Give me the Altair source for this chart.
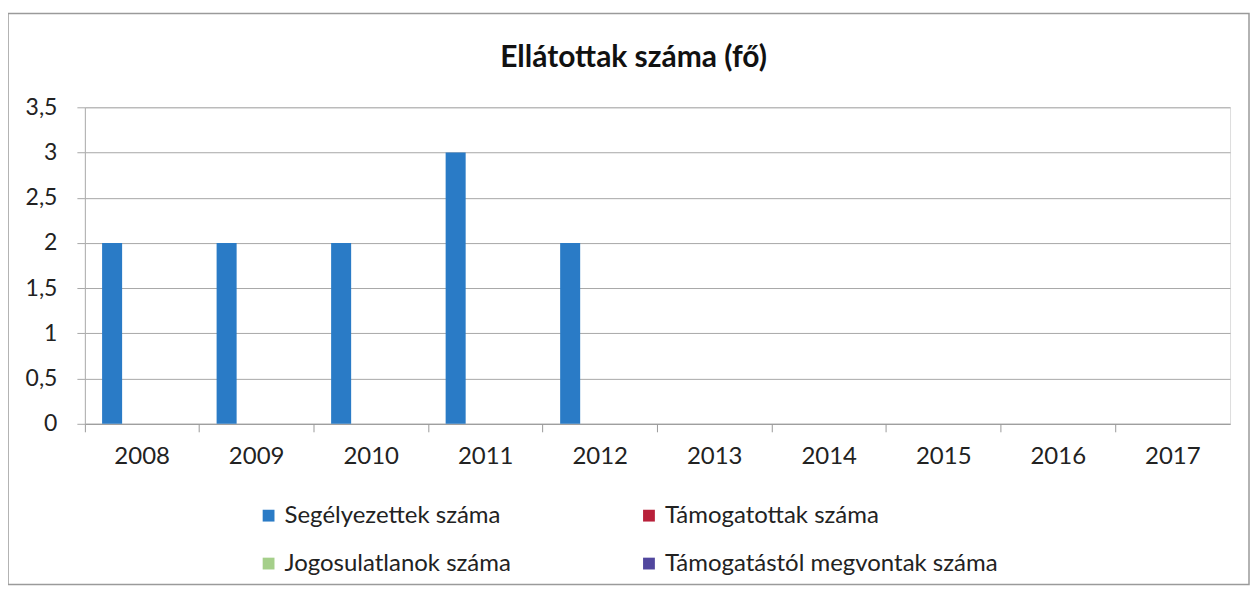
import altair as alt
import pandas as pd

years = ["2008", "2009", "2010", "2011", "2012", "2013", "2014", "2015", "2016", "2017"]
series = ["Segélyezettek száma", "Támogatottak száma", "Jogosulatlanok száma", "Támogatástól megvontak száma"]
segelyezettek = [2, 2, 2, 3, 2, 0, 0, 0, 0, 0]
tamogatottak = [0, 0, 0, 0, 0, 0, 0, 0, 0, 0]
jogosulatlanok = [0, 0, 0, 0, 0, 0, 0, 0, 0, 0]
megvontak = [0, 0, 0, 0, 0, 0, 0, 0, 0, 0]
colors = ["#2a7bc6", "#b8203a", "#a5cf8a", "#51479e"]
y_ticks = [0, 0.5, 1, 1.5, 2, 2.5, 3, 3.5]

rows = []
for name, vals in zip(series, [segelyezettek, tamogatottak, jogosulatlanok, megvontak]):
    for yr, v in zip(years, vals):
        rows.append({"Év": yr, "Sorozat": name, "Érték": v})
df = pd.DataFrame(rows)

# legend is filled column by column: first column Segélyezettek / Jogosulatlanok
legend_order = [series[0], series[2], series[1], series[3]]
legend_colors = [colors[0], colors[2], colors[1], colors[3]]

FONT = "Lato"

bars = alt.Chart(df).mark_bar().encode(
    x=alt.X("Év:N", sort=years,
            scale=alt.Scale(paddingInner=0, paddingOuter=0),
            axis=alt.Axis(title=None, labelAngle=0, labelFontSize=24, labelColor="#222222",
                          labelFont=FONT, domainColor="#9a9a9a", tickColor="#9a9a9a",
                          tickSize=8, labelPadding=13, bandPosition=0, grid=False)),
    xOffset=alt.XOffset("Sorozat:N", sort=series,
                        scale=alt.Scale(paddingInner=0, paddingOuter=0.86)),
    y=alt.Y("Érték:Q", scale=alt.Scale(domain=[0, 3.5], nice=False),
            axis=alt.Axis(title=None, values=y_ticks, labelFontSize=23, labelColor="#222222",
                          labelFont=FONT,
                          labelExpr="replace(toString(datum.value), '.', ',')",
                          gridColor="#a8a8a8", domainColor="#b0b0b0", tickColor="#a8a8a8",
                          tickSize=8, labelPadding=20)),
    color=alt.Color("Sorozat:N",
                    scale=alt.Scale(domain=legend_order, range=legend_colors),
                    legend=alt.Legend(title=None, orient="none", legendX=172, legendY=397,
                                      columns=2, columnPadding=126, rowPadding=24,
                                      symbolType="square", symbolSize=140,
                                      symbolStrokeWidth=0, labelFontSize=24,
                                      labelFont=FONT, labelColor="#222222",
                                      padding=0, labelLimit=500)),
)

frame = alt.Chart(pd.DataFrame({"k": [0]})).mark_rect(
    fill=None, stroke="#9a9a9a", strokeWidth=1.5, clip=False
).encode(
    x=alt.value(-77), x2=alt.value(1166), y=alt.value(-94), y2=alt.value(478)
)

chart = alt.layer(bars, frame).properties(
    width=1147, height=317,
    padding={"left": 77, "top": 99, "right": 20, "bottom": 165},
    autosize=alt.AutoSizeParams(type="none"),
    title=alt.TitleParams("Ellátottak száma (fő)", font=FONT, fontSize=30, fontWeight="bold",
                          color="#111111", anchor="middle", dx=-24, offset=-60),
).configure_view(stroke=None).configure(background="white")

chart.save("out.html", embed_options={"renderer": "svg", "actions": False})
